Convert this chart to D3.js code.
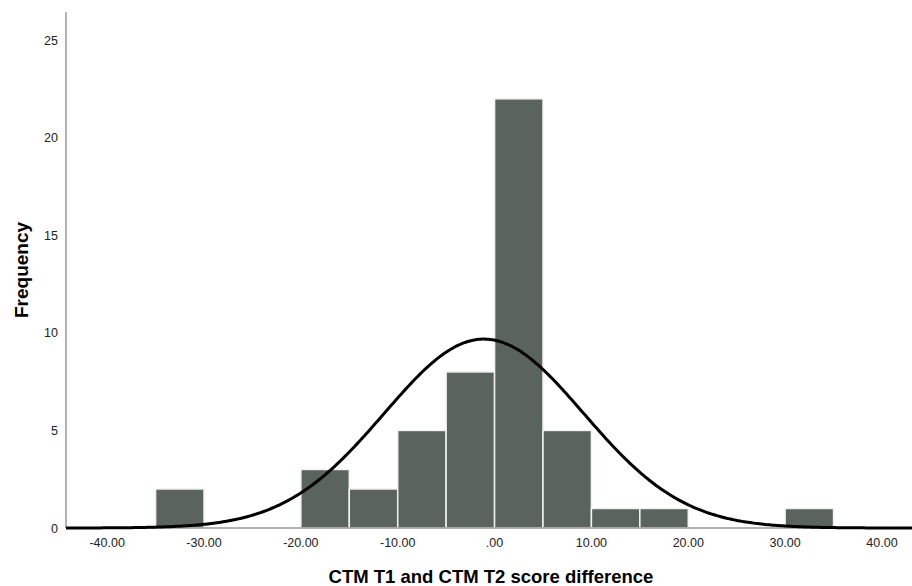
<!DOCTYPE html>
<html>
<head>
<meta charset="utf-8">
<script src="https://cdn.jsdelivr.net/npm/d3@7"></script>
<style>
  body { margin: 0; background: #fff; }
  svg { font-family: "Liberation Sans", Arial, sans-serif; }
</style>
</head>
<body>
<div id="chart"></div>
<script>
  // bins of width 5 (lower edge) and their counts
  var binStarts = [-35, -20, -15, -10, -5, 0, 5, 10, 15, 30];
  var counts = [2, 3, 2, 5, 8, 22, 5, 1, 1, 1];
  var binWidth = 5;

  // normal curve parameters
  var curveMean = -1.1;
  var curveSd = 10.3;
  var total = 50;

  var xTicks = [-40, -30, -20, -10, 0, 10, 20, 30, 40];
  var yTicks = [0, 5, 10, 15, 20, 25];

  const width = 912, height = 586;

  const svg = d3.select('#chart')
      .append('svg')
      .attr('width', width)
      .attr('height', height);

  var xScale = d3.scaleLinear()
      .domain([-44.25, 43.1])
      .range([66, 912]);

  var yScale = d3.scaleLinear()
      .domain([0, 26.45])
      .range([528, 12]);

  //bars
  svg.selectAll("rect.bar")
      .data(binStarts)
      .enter()
      .append("rect")
      .attr("class", "bar")
      .attr("x", (d) => xScale(d))
      .attr("y", (d, i) => yScale(counts[i]))
      .attr("width", (d) => xScale(d + binWidth) - xScale(d))
      .attr("height", (d, i) => yScale(0) - yScale(counts[i]))
      .attr("fill", "#5a635e")
      .attr("stroke", "#f2f2f2")
      .attr("stroke-width", 1.5);

  //axis lines
  svg.append("line")
      .attr("x1", 66).attr("x2", 912)
      .attr("y1", yScale(0)).attr("y2", yScale(0))
      .attr("stroke", "#999")
      .attr("stroke-width", 1.5);

  svg.append("line")
      .attr("x1", 66).attr("x2", 66)
      .attr("y1", 12).attr("y2", yScale(0))
      .attr("stroke", "#999")
      .attr("stroke-width", 1.5);

  //normal curve
  var pts = d3.range(-44.25, 43.2, 0.2).map((x) => {
      var z = (x - curveMean) / curveSd;
      var y = total * binWidth / (curveSd * Math.sqrt(2 * Math.PI)) * Math.exp(-0.5 * z * z);
      return [x, y];
  });

  svg.append("path")
      .datum(pts)
      .attr("fill", "none")
      .attr("stroke", "#000")
      .attr("stroke-width", 3)
      .attr("d", d3.line()
          .x((d) => xScale(d[0]))
          .y((d) => yScale(d[1])));

  //tick labels (SPSS style: hyphen minus, ".00" for zero)
  svg.selectAll("text.xt")
      .data(xTicks)
      .enter()
      .append("text")
      .attr("class", "xt")
      .attr("x", (d) => xScale(d))
      .attr("y", 547)
      .attr("text-anchor", "middle")
      .attr("font-size", 12.5)
      .attr("fill", "#222")
      .text((d) => d === 0 ? ".00" : d.toFixed(2));

  svg.selectAll("text.yt")
      .data(yTicks)
      .enter()
      .append("text")
      .attr("class", "yt")
      .attr("x", 58)
      .attr("y", (d) => yScale(d) + 4.5)
      .attr("text-anchor", "end")
      .attr("font-size", 12.5)
      .attr("fill", "#222")
      .text((d) => d);

  //axis titles
  svg.append("text")
      .attr("x", 491)
      .attr("y", 583)
      .attr("text-anchor", "middle")
      .attr("font-size", 18.5)
      .attr("font-weight", "bold")
      .attr("fill", "#000")
      .text("CTM T1 and CTM T2 score difference");

  svg.append("text")
      .attr("transform", "translate(28,270) rotate(-90)")
      .attr("text-anchor", "middle")
      .attr("font-size", 19)
      .attr("font-weight", "bold")
      .attr("fill", "#000")
      .text("Frequency");
</script>
</body>
</html>
